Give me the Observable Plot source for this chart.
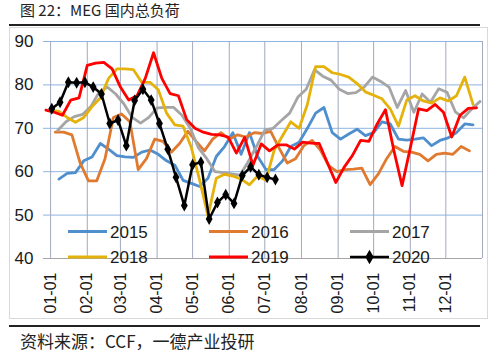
<!DOCTYPE html>
<html><head><meta charset="utf-8">
<script src="https://cdn.jsdelivr.net/npm/d3@7"></script>
<script src="https://cdn.jsdelivr.net/npm/@observablehq/plot@0.6"></script>
<style>
body{margin:0;background:#fff;}
#wrap{position:relative;width:500px;height:353px;overflow:hidden;background:#fff;font-family:"Liberation Sans",Arial,sans-serif;}
#title{position:absolute;left:20px;top:0px;font:15px/20px "Noto Sans CJK SC",sans-serif;color:#222;white-space:nowrap;}
#caption{position:absolute;left:20px;top:331px;font:17px/20px "Noto Sans CJK SC",sans-serif;color:#222;white-space:nowrap;}
.rule{position:absolute;left:9px;width:471px;height:2px;background:#222;}
#frame{position:absolute;left:9px;top:27px;width:477px;height:290px;border:1px solid #d9d9d9;}
#chart{position:absolute;left:0;top:28px;}
#legend{position:absolute;left:0;top:0;pointer-events:none;}
</style></head><body>
<div id="wrap">
  <div id="title">图 22：MEG 国内总负荷</div>
  <div class="rule" style="top:24px"></div>
  <div id="frame"></div>
  <div id="chart"></div>
  <svg id="legend" width="500" height="353"></svg>
  <div class="rule" style="top:325px"></div>
  <div id="caption">资料来源：CCF，一德产业投研</div>
</div>
<script>
// series names, colours, start day (offset from 01-01) of weekly data
const years = ["2015", "2016", "2017", "2018", "2019", "2020"];
const colors = ["#4f8fcd", "#df7a30", "#a5a5a5", "#e4b20a", "#ff0000", "#000000"];
const startDays = [7, 4, 6, 0, -4, 1];

// weekly load values (%)
const v2015 = [58.3, 59.6, 59.8, 62.5, 63.4, 66.5, 65.2, 63.7, 63.4, 63.3, 64.5, 65, 64, 62.5, 61.5, 58, 57.3, 56.6, 58.5, 63.5, 65.8, 69, 64, 69, 63.5, 60.5, 60.5, 62.5, 65.8, 66.8, 70, 73.5, 74.8, 69, 67.5, 68.7, 69.8, 68.3, 69, 71.5, 71, 67.5, 67.3, 67.5, 67.8, 66, 67.2, 67.8, 69, 71, 70.8];
const v2016 = [69.1, 69.1, 68.5, 62, 57.9, 57.9, 63, 72.5, 73.3, 71.5, 60.5, 63, 67.5, 67, 64.5, 66.5, 69.3, 67, 64.8, 67.5, 69, 67.5, 68.5, 68, 69, 68.8, 69.3, 65.5, 62, 63, 66, 67.2, 65, 61.4, 60, 60.5, 60.6, 60.8, 57, 59.5, 63, 65.8, 64.7, 64.5, 64, 62.5, 64, 64.3, 64, 65.8, 64.8];
const v2017 = [69.5, 71.5, 72.7, 73.2, 75, 78.3, 79.5, 77.9, 75.6, 72.5, 71.2, 72.5, 74.7, 74.8, 74.8, 73, 70, 65.5, 63, 60, 59.8, 59.5, 59.2, 62.3, 65.8, 69.6, 70, 71.8, 73.5, 77.2, 79, 83.5, 82, 81.1, 79, 78, 78.2, 79.5, 81.8, 80.8, 79.5, 74.8, 78.7, 73.7, 77.9, 76, 79.1, 78.3, 73.8, 72.4, 74.5, 76.2];
const v2018 = [74.2, 73.9, 72.5, 71.4, 72.5, 75, 77, 81.5, 83.7, 83.7, 83.5, 80.6, 80.6, 78.9, 73.5, 70.8, 70.5, 65.5, 58, 49.8, 58.5, 59.4, 59, 58.3, 57, 59, 58, 65, 68.3, 71.5, 70, 75.5, 84.2, 84.2, 82.8, 82.4, 81.8, 80.3, 78.4, 77.6, 76.8, 74.5, 70.5, 76.5, 77.5, 76.3, 75.8, 77, 76.3, 77.5, 81.8, 75.5];
const v2019 = [74.2, 73.7, 73, 76.5, 77, 84.5, 85, 85.2, 83.7, 79.5, 76.5, 77.5, 81.5, 87.4, 81.5, 78, 77.5, 72, 70, 69.1, 68.6, 68.5, 68, 64.3, 67.9, 61.5, 66.4, 64.8, 66.2, 66.2, 65.2, 66.8, 66.6, 66.5, 62, 57.5, 61, 63.7, 67.2, 67, 71, 74.3, 65, 56.8, 65.5, 74.5, 74.1, 75.5, 73.7, 68, 73, 74.6, 74.7];
const v2020 = [74.5, 76, 80.6, 80.5, 80.6, 79.5, 77.9, 71.1, 71.9, 66, 76.4, 79, 76.5, 71.1, 65.2, 58.7, 52.2, 61.6, 62.2, 49.1, 52.9, 54.7, 52.7, 59.1, 61.1, 59.3, 58.7, 58.2];

// axis ticks
const yTicks = [40, 50, 60, 70, 80, 90];
const monthLabels = ["01-01","02-01","03-01","04-01","05-01","06-01","07-01","08-01","09-01","10-01","11-01","12-01"];

const DAY = 86400000;
const base = Date.UTC(2021, 0, 1);
const seriesValues = [v2015, v2016, v2017, v2018, v2019, v2020];
const rows = [];
seriesValues.forEach((vals, s) => {
  vals.forEach((v, i) => rows.push({year: years[s], date: new Date(base + (startDays[s] + 7 * i) * DAY), value: v}));
});
const monthTicks = monthLabels.map(m => new Date(Date.UTC(2021, +m.slice(0, 2) - 1, 1)));
const gridX = [...monthTicks, new Date(Date.UTC(2022, 0, 1))];

const lineMarks = years.map((y, s) =>
  Plot.line(rows.filter(d => d.year === y), {x: "date", y: "value", stroke: colors[s],
    strokeWidth: y === "2020" ? 2.5 : 2.8, strokeLinejoin: "round", strokeLinecap: "round"}));

const chart = Plot.plot({
  width: 500, height: 290,
  marginLeft: 43, marginRight: 18, marginTop: 13, marginBottom: 60,
  style: {fontFamily: "'Liberation Sans', Arial, sans-serif", background: "transparent", color: "#1a1a1a"},
  x: {type: "utc", domain: [new Date(Date.UTC(2020, 11, 26)), new Date(Date.UTC(2022, 0, 1))]},
  y: {domain: [40, 90]},
  marks: [
    Plot.ruleY(yTicks.filter(t => t > 40), {y: d => d, stroke: "#8db4e2", strokeWidth: 1}),
    Plot.ruleX(gridX, {x: d => d, stroke: "#a3a9bf", strokeWidth: 1}),
    Plot.ruleY([40], {y: d => d, stroke: "#a6a6a6", strokeWidth: 1}),
    Plot.axisY(yTicks, {tickSize: 0, tickPadding: 10, fontSize: 17, label: null}),
    Plot.axisX(monthTicks, {tickSize: 0, tickPadding: 14, tickRotate: -90, fontSize: 16, label: null,
      tickFormat: d => monthLabels[d.getUTCMonth()]}),
    ...lineMarks,
    Plot.dot(rows.filter(d => d.year === "2020"), {x: "date", y: "value", symbol: "diamond", r: 3.6, fill: "#000", stroke: "none"})
  ]
});
document.getElementById("chart").appendChild(chart);

// legend
const lg = d3.select("#legend");
const colX = [68, 209, 350];
const rowY = [231.5, 257];
years.forEach((y, s) => {
  const x0 = colX[s % 3], yy = rowY[Math.floor(s / 3)];
  lg.append("line").attr("x1", x0).attr("x2", x0 + 39).attr("y1", yy).attr("y2", yy)
    .attr("stroke", colors[s]).attr("stroke-width", y === "2020" ? 2.5 : 2.8);
  if (y === "2020") {
    lg.append("path").attr("d", d3.symbol(d3.symbolDiamond, 60)()).attr("transform", `translate(${x0 + 19.5},${yy})`).attr("fill", "#000");
  }
  lg.append("text").attr("x", x0 + 42).attr("y", yy).attr("dy", "0.36em")
    .attr("font-family", "'Liberation Sans', Arial, sans-serif").attr("font-size", 17).attr("fill", "#1a1a1a").text(y);
});
</script>
</body></html>
